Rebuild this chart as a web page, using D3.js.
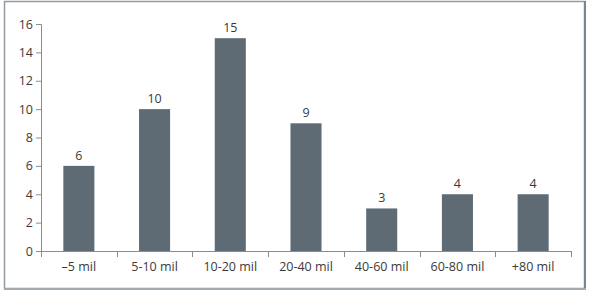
<!DOCTYPE html>
<html>
<head>
<meta charset="utf-8">
<script src="https://cdn.jsdelivr.net/npm/d3@7"></script>
<style>
  body { margin: 0; background: #fff; }
  text { font-family: "Open Sans", "DejaVu Sans", sans-serif; }
</style>
</head>
<body>
<div id="main"></div>
<script>
var categories = ["\u20135 mil", "5-10 mil", "10-20 mil", "20-40 mil", "40-60 mil", "60-80 mil", "+80 mil"];
var values = [6, 10, 15, 9, 3, 4, 4];
var yTicks = [0, 2, 4, 6, 8, 10, 12, 14, 16];

var width = 589, height = 293;
var svg = d3.select("#main").append("svg")
  .attr("width", width).attr("height", height);

// frame, a bit heavier on the right and bottom
svg.append("rect")
  .attr("x", 4.5).attr("y", 1.5)
  .attr("width", 580).attr("height", 287)
  .style("fill", "none")
  .style("stroke", "#939ca3")
  .style("stroke-width", 1.5);
svg.append("line")
  .attr("x1", 585).attr("x2", 585).attr("y1", 1).attr("y2", 289.5)
  .attr("stroke", "#7a858e").attr("stroke-width", 2);
svg.append("line")
  .attr("x1", 4).attr("x2", 586).attr("y1", 289).attr("y2", 289)
  .attr("stroke", "#a2aab0").attr("stroke-width", 2);

var x = d3.scaleBand().domain(categories).range([41, 571]).paddingInner(0.59).paddingOuter(0.295);
var xEdges = d3.scaleLinear().domain([0, categories.length]).range([41, 571]);
var y = d3.scaleLinear().domain([0, 16]).range([251, 24]);

var axisColor = "#8c8c8c";
var textColor = "#3a3a3a";

// y axis
var yAxis = svg.append("g")
  .attr("transform", "translate(41,0)")
  .call(d3.axisLeft(y).tickValues(yTicks).tickSize(5).tickPadding(3));
yAxis.select(".domain").attr("stroke", axisColor);
yAxis.selectAll(".tick line").attr("stroke", axisColor);
yAxis.selectAll(".tick text").style("font-size", "12.5px").attr("fill", textColor);

// bars
svg.selectAll(".bar").data(values).enter().append("rect")
  .attr("x", function (d, i) { return x(categories[i]); })
  .attr("y", function (d) { return y(d); })
  .attr("width", x.bandwidth())
  .attr("height", function (d) { return y(0) - y(d); })
  .style("fill", "#5e6b74");

// value labels
svg.selectAll(".val").data(values).enter().append("text")
  .attr("x", function (d, i) { return x(categories[i]) + x.bandwidth() / 2; })
  .attr("y", function (d) { return y(d) - 6; })
  .attr("text-anchor", "middle")
  .style("font-size", "12.5px")
  .attr("fill", textColor)
  .text(function (d) { return d; });

// x axis line + ticks at band edges
svg.append("line")
  .attr("x1", 41).attr("x2", 571).attr("y1", 251.5).attr("y2", 251.5)
  .attr("stroke", axisColor);
svg.selectAll(".xtick").data(d3.range(categories.length + 1)).enter().append("line")
  .attr("x1", function (d) { return Math.round(xEdges(d)) + 0.5; })
  .attr("x2", function (d) { return Math.round(xEdges(d)) + 0.5; })
  .attr("y1", 251).attr("y2", 257)
  .attr("stroke", axisColor);
svg.selectAll(".xlab").data(categories).enter().append("text")
  .attr("x", function (d) { return x(d) + x.bandwidth() / 2; })
  .attr("y", 271)
  .attr("text-anchor", "middle")
  .style("font-size", "12.5px")
  .attr("fill", textColor)
  .text(function (d) { return d; });
</script>
</body>
</html>
